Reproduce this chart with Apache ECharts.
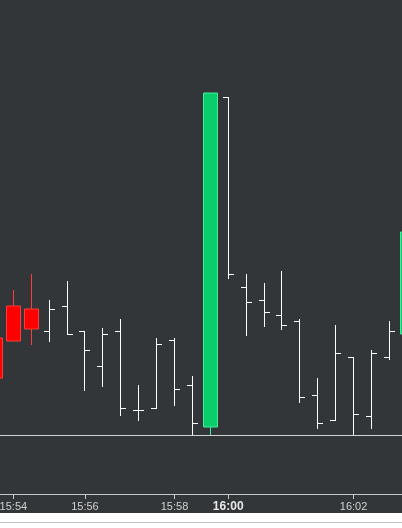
<!DOCTYPE html>
<html>
<head>
<meta charset="utf-8">
<script src="https://cdn.jsdelivr.net/npm/echarts@6/dist/echarts.min.js"></script>
<style>
  html, body { margin: 0; padding: 0; background: #ffffff; }
  #chart { width: 402px; height: 513px; }
  #strip { width: 402px; height: 15px; position: relative; }
  #strip div { position: absolute; left: 0; top: 9px; width: 402px; height: 1px; background: #c4c4c4; }
</style>
</head>
<body>
<div id="chart"></div>
<div id="strip"><div></div></div>
<script>
// Bar times (category axis)
const categories = [
  '15:53:40', '15:54:00', '15:54:30', '15:55:00', '15:55:30', '15:56:00',
  '15:56:25', '15:56:50', '15:57:15', '15:57:40', '15:58:00', '15:58:40',
  '15:59:20', '16:00:00', '16:00:20', '16:00:35', '16:00:50', '16:01:10',
  '16:01:25', '16:01:45', '16:02:00', '16:02:20', '16:02:40', '16:03:00'
];
// Candle bars: [index, open, close, low, high]
const candleBars = [
  [0, 100.97, 100.57, 100.57, 100.97],
  [1, 101.29, 100.94, 100.94, 101.45],
  [2, 101.26, 101.06, 100.90, 101.61],
  [12, 100.08, 103.42, 100.00, 103.42],
  [23, 101.01, 102.03, 101.01, 102.03]
];
// OHLC bars: [index, open, close, low, high]
const ohlcBars = [
  [3, 101.04, 101.26, 100.94, 101.35],
  [4, 101.29, 101.01, 101.01, 101.54],
  [5, 101.04, 100.85, 100.45, 101.04],
  [6, 100.69, 101.01, 100.49, 101.07],
  [7, 101.04, 100.27, 100.20, 101.16],
  [8, 100.25, 100.25, 100.15, 100.50],
  [9, 100.27, 100.91, 100.27, 100.97],
  [10, 100.95, 100.46, 100.30, 100.97],
  [11, 100.50, 100.12, 100.00, 100.59],
  [13, 103.38, 101.61, 101.57, 103.38],
  [14, 101.48, 101.33, 101.00, 101.61],
  [15, 101.35, 101.23, 101.09, 101.52],
  [16, 101.20, 101.10, 101.06, 101.64],
  [17, 101.14, 100.38, 100.33, 101.16],
  [18, 100.40, 100.12, 100.07, 100.57],
  [19, 100.15, 100.82, 100.15, 101.10],
  [20, 100.78, 100.21, 100.00, 100.78],
  [21, 100.19, 100.82, 100.07, 100.85],
  [22, 100.78, 101.04, 100.76, 101.14]
];
const referenceLevel = 100.00;
const boldLabel = '16:00';

// candlestick data aligned to categories
const candleData = categories.map(() => '-');
candleBars.forEach(b => { candleData[b[0]] = [b[1], b[2], b[3], b[4]]; });

function isMinuteLabel(value) {
  const parts = value.split(':');
  return parts[2] === '00' && parseInt(parts[1], 10) % 2 === 0;
}

const chart = echarts.init(document.getElementById('chart'));
chart.setOption({
  animation: false,
  backgroundColor: '#323639',
  grid: {
    left: -13.5, width: 429.7, top: 0, height: 494,
    containLabel: false,
    outerBoundsMode: 'none'
  },
  xAxis: {
    type: 'category',
    data: categories,
    boundaryGap: true,
    axisLine: { show: true, lineStyle: { color: '#c8c8c8', width: 1 } },
    axisTick: {
      show: true, alignWithLabel: true, length: 5,
      interval: (i, v) => isMinuteLabel(v),
      lineStyle: { color: '#c8c8c8' }
    },
    axisLabel: {
      interval: (i, v) => isMinuteLabel(v),
      margin: 7,
      color: '#d0d0d0',
      fontSize: 11,
      fontFamily: 'Liberation Sans, Arial, sans-serif',
      formatter: v => {
        const t = v.slice(0, 5);
        return t === boldLabel ? '{b|' + t + '}' : t;
      },
      rich: {
        b: { fontWeight: 'bold', fontSize: 12, color: '#e8e8e8', fontFamily: 'Liberation Sans, Arial, sans-serif' }
      }
    },
    splitLine: { show: false }
  },
  yAxis: {
    type: 'value',
    min: 99.41,
    max: 104.35,
    show: false,
    splitLine: { show: false }
  },
  series: [
    {
      type: 'candlestick',
      data: candleData,
      barWidth: 14,
      itemStyle: {
        color: '#08cf6b',
        color0: '#ff0000',
        borderColor: '#45ec9c',
        borderColor0: '#ff3b3b',
        borderWidth: 1
      },
      markLine: {
        silent: true,
        symbol: 'none',
        label: { show: false },
        lineStyle: { color: '#d2d2d2', type: 'solid', width: 1 },
        data: [{ yAxis: referenceLevel }]
      }
    },
    {
      type: 'custom',
      data: ohlcBars,
      encode: { x: 0, y: [1, 2, 3, 4] },
      renderItem: function (params, api) {
        const idx = api.value(0);
        const o = api.coord([idx, api.value(1)]);
        const c = api.coord([idx, api.value(2)]);
        const l = api.coord([idx, api.value(3)]);
        const h = api.coord([idx, api.value(4)]);
        const x = Math.floor(o[0]) + 0.5;
        const yo = Math.round(o[1]) + 0.5;
        const yc = Math.round(c[1]) + 0.5;
        const style = { stroke: '#ffffff', lineWidth: 1 };
        return {
          type: 'group',
          children: [
            { type: 'line', shape: { x1: x, y1: Math.round(h[1]), x2: x, y2: Math.round(l[1]) + 1 }, style: style },
            { type: 'line', shape: { x1: x - 5.5, y1: yo, x2: x, y2: yo }, style: style },
            { type: 'line', shape: { x1: x, y1: yc, x2: x + 5.5, y2: yc }, style: style }
          ]
        };
      }
    }
  ]
});
</script>
</body>
</html>
